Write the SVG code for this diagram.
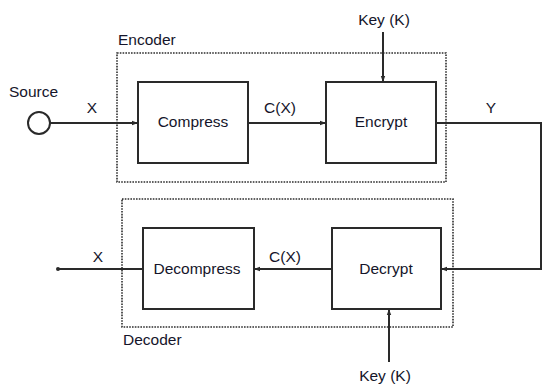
<svg xmlns="http://www.w3.org/2000/svg" width="544" height="390" viewBox="0 0 544 390">
<style>
text{font-family:"Liberation Sans",Arial,sans-serif;font-size:15.5px;fill:#15152a}
.box{fill:#fff;stroke:#2a2a2a;stroke-width:2}
.grp{fill:none;stroke:#2e2e2e;stroke-width:1.6;stroke-dasharray:1.6 1.2}
.ln{fill:none;stroke:#2a2a2a;stroke-width:2}
.mid{text-anchor:middle}
</style>
<defs>
<marker id="ah" viewBox="0 0 6 6" refX="6" refY="3" markerWidth="6" markerHeight="6" markerUnits="userSpaceOnUse" orient="auto">
<path d="M0,0.8 L6,3 L0,5.2 z" fill="#2a2a2a"/>
</marker>
</defs>
<rect width="544" height="390" fill="#fff"/>
<g id="encoder">
<rect class="grp" x="117" y="53" width="329" height="129"/>
<text x="118" y="45">Encoder</text>
</g>
<g id="decoder">
<rect class="grp" x="122" y="199" width="331" height="128"/>
<text x="123" y="345">Decoder</text>
</g>
<g id="connectors">
<line class="ln" x1="50" y1="123" x2="138" y2="123" marker-end="url(#ah)"/>
<line class="ln" x1="248" y1="123" x2="326" y2="123" marker-end="url(#ah)"/>
<line class="ln" x1="383" y1="32" x2="383" y2="82" marker-end="url(#ah)"/>
<polyline class="ln" points="436,123 541,123 541,269 441,269" marker-end="url(#ah)"/>
<line class="ln" x1="332" y1="269" x2="254" y2="269" marker-end="url(#ah)"/>
<line class="ln" x1="143" y1="269" x2="58" y2="269"/>
<circle cx="58" cy="269" r="2" fill="#2a2a2a"/>
<line class="ln" x1="389" y1="362" x2="389" y2="309" marker-end="url(#ah)"/>
<text class="mid" x="92" y="113">X</text>
<text class="mid" x="280" y="113">C(X)</text>
<text class="mid" x="491" y="113">Y</text>
<text class="mid" x="98" y="262">X</text>
<text class="mid" x="285" y="262">C(X)</text>
</g>
<g id="source">
<circle cx="39" cy="123" r="11" fill="#fff" stroke="#2a2a2a" stroke-width="2"/>
<text x="9" y="97">Source</text>
</g>
<g id="compress">
<rect class="box" x="138" y="82" width="110" height="81"/>
<text class="mid" x="193" y="127">Compress</text>
</g>
<g id="encrypt">
<rect class="box" x="326" y="82" width="110" height="81"/>
<text class="mid" x="381" y="127">Encrypt</text>
</g>
<g id="key-top">
<text class="mid" x="384" y="25">Key (K)</text>
</g>
<g id="decompress">
<rect class="box" x="143" y="228" width="111" height="81"/>
<text class="mid" x="197" y="274">Decompress</text>
</g>
<g id="decrypt">
<rect class="box" x="332" y="228" width="109" height="81"/>
<text class="mid" x="386" y="274">Decrypt</text>
</g>
<g id="key-bottom">
<text class="mid" x="385" y="381">Key (K)</text>
</g>
</svg>
